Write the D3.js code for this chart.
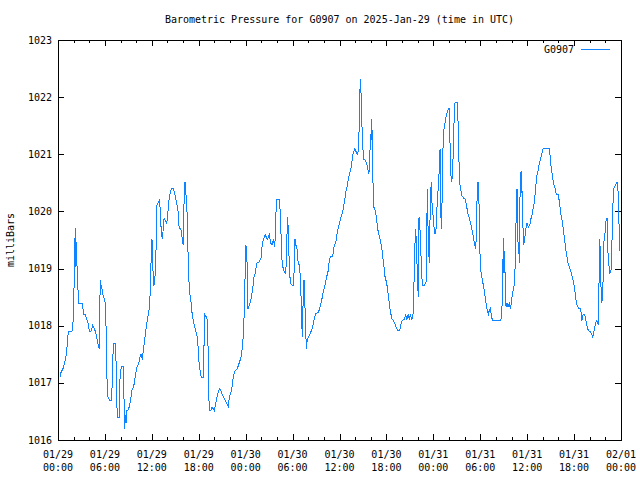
<!DOCTYPE html>
<html>
<head>
<meta charset="utf-8">
<script src="https://cdn.jsdelivr.net/npm/d3@7"></script>
<style>
  html, body { margin: 0; padding: 0; background: #fff; }
  text { font-family: "DejaVu Sans Mono", "Liberation Mono", monospace; font-size: 10px; fill: #000; }
</style>
</head>
<body>
<svg id="chart" width="640" height="480"></svg>
<script>
const title = "Barometric Pressure for G0907 on 2025-Jan-29 (time in UTC)";
const yLabel = "milliBars";
const seriesName = "G0907";
const yTicks = [1016, 1017, 1018, 1019, 1020, 1021, 1022, 1023];
const xTickHours = [0, 6, 12, 18, 24, 30, 36, 42, 48, 54, 60, 66, 72];
const xTickDates = ["01/29","01/29","01/29","01/29","01/30","01/30","01/30","01/30","01/31","01/31","01/31","01/31","02/01"];
const xTickTimes = ["00:00","06:00","12:00","18:00","00:00","06:00","12:00","18:00","00:00","06:00","12:00","18:00","00:00"];

// hours since 2025-01-29 00:00 UTC
const hours = [
0.26,0.38,0.68,0.93,1.11,1.24,1.37,1.79,1.88,2.01,2.08,2.21,2.26,2.34,2.39,2.52,2.56,2.65,3.07,3.20,
3.24,3.49,3.71,3.88,4.00,4.22,4.44,4.69,4.86,5.03,5.15,5.28,5.33,5.41,5.50,5.63,5.76,5.92,6.05,6.14,
6.23,6.36,6.56,6.87,7.00,7.12,7.33,7.42,7.51,7.58,7.84,7.93,8.10,8.40,8.44,8.53,8.61,8.70,8.79,9.04,
9.21,9.34,9.46,9.68,9.81,9.98,10.10,10.32,10.49,10.62,10.78,11.00,11.17,11.29,11.42,11.60,11.73,11.80,11.93,12.02,
12.11,12.24,12.37,12.57,12.66,12.88,12.96,13.05,13.13,13.21,13.34,13.43,13.56,13.72,13.90,13.98,14.16,14.29,14.41,14.54,
14.75,14.87,15.00,15.13,15.26,15.39,15.44,15.51,15.69,15.82,15.90,16.03,16.11,16.24,16.33,16.46,16.59,16.66,16.84,17.01,
17.18,17.39,17.56,17.74,17.87,18.00,18.16,18.33,18.58,18.67,18.76,18.93,19.09,19.18,19.27,19.35,19.53,19.70,19.86,19.99,
20.12,20.25,20.46,20.68,20.89,21.01,21.23,21.49,21.78,21.91,22.21,22.42,22.64,22.93,23.15,23.37,23.53,23.70,23.83,23.95,
24.04,24.17,24.30,24.47,24.65,24.81,24.94,25.07,25.23,25.41,25.75,25.96,26.13,26.31,26.51,26.77,27.02,27.20,27.37,27.54,
27.72,27.84,27.92,28.30,28.43,28.56,28.65,28.77,28.94,29.12,29.20,29.29,29.38,29.45,29.58,29.71,29.93,30.09,30.18,30.31,
30.44,30.53,30.66,30.78,30.91,31.04,31.17,31.24,31.37,31.46,31.55,31.68,31.76,31.88,32.06,32.27,32.49,32.65,32.83,33.00,
33.29,33.51,33.73,33.93,34.15,34.37,34.57,34.70,34.88,35.13,35.30,35.56,35.72,35.90,36.07,36.28,36.49,36.67,36.83,37.00,
37.18,37.34,37.51,37.64,37.77,37.98,38.11,38.28,38.46,38.53,38.66,38.75,38.84,38.97,39.10,39.30,39.48,39.65,39.74,39.87,
39.94,40.03,40.12,40.20,40.29,40.38,40.54,40.67,40.80,40.92,41.09,41.22,41.40,41.53,41.69,41.82,42.04,42.21,42.37,42.50,
42.68,42.88,43.06,43.23,43.45,43.70,43.87,44.08,44.29,44.47,44.63,44.80,44.93,45.06,45.24,45.40,45.57,45.70,45.83,45.91,
46.00,46.08,46.17,46.30,46.39,46.52,46.59,46.90,47.07,47.16,47.23,47.36,47.49,47.61,47.74,47.83,47.96,48.09,48.21,48.34,
48.47,48.60,48.77,48.86,48.94,49.02,49.11,49.20,49.33,49.49,49.66,49.84,50.01,50.10,50.17,50.30,50.43,50.52,50.65,50.77,
51.07,51.16,51.28,51.41,51.54,51.67,51.89,52.09,52.27,52.44,52.60,52.78,52.95,53.11,53.29,53.42,53.50,53.59,53.71,53.84,
53.93,54.06,54.19,54.35,54.52,54.65,54.78,54.91,55.04,55.16,55.29,55.42,55.54,56.62,56.75,56.88,56.95,57.04,57.13,57.21,
57.30,57.42,57.55,57.72,57.85,57.97,58.10,58.23,58.41,58.48,58.61,58.70,58.79,58.92,59.00,59.09,59.22,59.30,59.38,59.51,
59.64,59.81,59.98,60.15,60.33,60.46,60.62,60.75,60.92,61.04,61.22,61.39,61.55,61.73,61.94,62.06,62.83,62.92,63.05,63.18,
63.31,63.43,63.60,63.73,63.98,64.07,64.20,64.33,64.46,64.58,64.71,64.84,64.97,65.14,65.27,65.39,65.57,65.70,65.83,65.96,
66.09,66.21,66.34,66.47,66.63,66.80,66.89,67.01,67.14,67.27,67.36,67.49,67.62,67.74,67.91,68.08,68.26,68.39,68.51,68.59,
68.77,68.93,69.10,69.19,69.28,69.36,69.45,69.54,69.66,69.83,69.96,70.09,70.21,70.30,70.43,70.51,70.64,70.77,70.85,70.94,
71.07,71.23,71.40,71.58,71.66,71.78,71.87
];
const pressure = [
1017.10,1017.18,1017.26,1017.40,1017.53,1017.81,1017.90,1017.90,1018.00,1018.22,1019.01,1019.71,1019.03,1019.47,1019.06,1019.03,1018.61,1018.39,1018.39,1018.29,
1018.20,1018.19,1018.10,1018.03,1017.90,1017.90,1018.01,1017.94,1017.85,1017.75,1017.66,1017.60,1018.22,1018.80,1018.71,1018.64,1018.54,1018.47,1018.40,1018.00,
1017.20,1016.77,1016.70,1016.70,1017.43,1017.69,1017.69,1017.37,1016.73,1016.40,1016.40,1017.06,1017.29,1017.29,1016.73,1016.19,1016.44,1016.30,1016.51,1016.54,
1016.65,1016.76,1016.87,1016.93,1017.06,1017.20,1017.28,1017.34,1017.46,1017.50,1017.41,1017.66,1017.84,1017.98,1018.10,1018.25,1018.34,1018.68,1019.24,1019.51,
1019.06,1018.71,1018.74,1019.44,1020.11,1020.17,1020.21,1020.08,1019.85,1019.65,1019.51,1019.65,1019.88,1019.84,1019.80,1019.85,1020.17,1020.29,1020.36,1020.40,
1020.40,1020.35,1020.26,1020.17,1020.09,1019.97,1019.80,1019.70,1019.70,1019.62,1019.50,1019.41,1020.11,1020.51,1020.36,1020.14,1019.66,1018.97,1018.57,1018.42,
1018.17,1018.04,1017.94,1017.85,1017.75,1017.40,1017.22,1017.10,1017.10,1017.63,1018.20,1018.16,1018.10,1017.69,1016.90,1016.51,1016.51,1016.58,1016.54,1016.51,
1016.61,1016.70,1016.82,1016.90,1016.85,1016.79,1016.73,1016.66,1016.58,1016.76,1016.87,1017.11,1017.21,1017.25,1017.34,1017.43,1017.57,1017.82,1018.27,1019.03,
1019.41,1019.12,1018.30,1018.36,1018.44,1018.57,1018.69,1018.86,1018.92,1019.09,1019.12,1019.18,1019.44,1019.53,1019.59,1019.51,1019.59,1019.45,1019.41,1019.51,
1019.38,1019.76,1020.21,1020.21,1019.97,1019.44,1019.15,1019.02,1018.95,1018.90,1019.15,1019.63,1019.90,1019.62,1019.06,1018.75,1018.71,1018.71,1018.92,1019.51,
1019.39,1019.41,1019.15,1019.09,1019.03,1018.69,1018.10,1017.81,1018.54,1018.80,1018.48,1017.92,1017.60,1017.75,1017.81,1017.87,1017.94,1018.04,1018.16,1018.22,
1018.23,1018.32,1018.45,1018.60,1018.71,1018.86,1018.97,1019.15,1019.21,1019.21,1019.38,1019.49,1019.65,1019.73,1019.84,1019.94,1020.05,1020.21,1020.35,1020.46,
1020.61,1020.68,1020.78,1020.93,1021.03,1021.10,1021.05,1021.00,1021.07,1021.72,1022.31,1022.08,1021.63,1021.14,1020.91,1020.90,1020.84,1020.72,1020.65,1020.81,
1021.35,1021.25,1021.61,1021.22,1020.48,1020.08,1020.02,1019.94,1019.79,1019.67,1019.56,1019.49,1019.38,1019.21,1019.03,1018.86,1018.74,1018.57,1018.39,1018.26,
1018.13,1018.09,1018.04,1017.98,1017.91,1017.91,1018.04,1018.10,1018.11,1018.19,1018.11,1018.20,1018.10,1018.20,1018.10,1018.19,1018.95,1019.70,1019.50,1019.09,
1018.71,1018.51,1019.91,1019.67,1019.32,1018.92,1018.71,1018.71,1018.77,1019.60,1020.40,1019.44,1019.10,1020.17,1020.52,1020.15,1019.94,1019.73,1019.60,1019.69,
1020.08,1020.36,1020.75,1021.10,1020.08,1019.70,1020.14,1020.97,1021.42,1021.55,1021.69,1021.76,1021.80,1021.48,1020.87,1020.52,1020.60,1020.93,1021.57,1021.90,
1021.90,1021.57,1020.87,1020.46,1020.36,1020.27,1020.23,1020.21,1020.08,1019.95,1019.88,1019.79,1019.67,1019.56,1019.41,1019.35,1019.59,1020.20,1020.52,1020.14,
1019.38,1018.97,1018.86,1018.74,1018.62,1018.48,1018.36,1018.25,1018.20,1018.27,1018.30,1018.19,1018.10,1018.10,1018.17,1018.86,1019.53,1018.92,1019.30,1018.51,
1018.33,1018.39,1018.33,1018.39,1018.30,1018.39,1018.54,1018.64,1018.74,1019.21,1020.02,1020.40,1019.50,1019.41,1019.09,1020.32,1020.71,1020.32,1020.35,1019.41,
1019.47,1019.67,1019.80,1019.72,1019.76,1019.86,1019.94,1020.04,1020.17,1020.35,1020.61,1020.71,1020.84,1020.93,1021.05,1021.10,1021.10,1020.99,1020.79,1020.67,
1020.54,1020.46,1020.39,1020.30,1020.30,1020.21,1020.08,1019.94,1019.85,1019.73,1019.59,1019.45,1019.30,1019.16,1019.07,1019.03,1018.96,1018.89,1018.83,1018.74,
1018.62,1018.48,1018.38,1018.33,1018.30,1018.30,1018.23,1018.09,1018.19,1018.20,1018.19,1018.11,1018.02,1017.94,1017.91,1017.90,1017.85,1017.80,1017.87,1017.95,
1018.05,1018.09,1018.01,1018.77,1019.51,1019.24,1018.65,1018.39,1018.55,1019.50,1019.62,1019.84,1019.88,1019.31,1019.16,1018.90,1018.95,1019.00,1019.50,1020.05,
1020.40,1020.44,1020.50,1020.50,1020.20,1019.62,1019.30
];

const mLeft = 58, mRight = 621, mTop = 40, mBottom = 440;
const svg = d3.select("#chart");

const x = d3.scaleLinear().domain([0, 72]).range([mLeft, mRight]);
const y = d3.scaleLinear().domain([1016, 1023]).range([mBottom, mTop]);

// title
svg.append("text").attr("x", (mLeft + mRight) / 2).attr("y", 23)
  .attr("text-anchor", "middle").text(title);

// y label
svg.append("text").attr("transform", `translate(14,${(mTop + mBottom) / 2}) rotate(-90)`)
  .attr("text-anchor", "middle").text(yLabel);

// ticks (inward, mirrored)
const tickG = svg.append("g").attr("stroke", "#000").attr("stroke-width", 1).attr("shape-rendering", "crispEdges");
const minorHours = d3.range(0, 73, 2);
minorHours.forEach(h => {
  const major = h % 6 === 0;
  const len = major ? 6 : 3;
  const px = Math.round(x(h)) + 0.5;
  tickG.append("line").attr("x1", px).attr("x2", px).attr("y1", mBottom).attr("y2", mBottom - len);
  tickG.append("line").attr("x1", px).attr("x2", px).attr("y1", mTop).attr("y2", mTop + len);
});
yTicks.forEach(v => {
  const py = Math.round(y(v)) + 0.5;
  tickG.append("line").attr("x1", mLeft).attr("x2", mLeft + 6).attr("y1", py).attr("y2", py);
  tickG.append("line").attr("x1", mRight).attr("x2", mRight - 6).attr("y1", py).attr("y2", py);
});

// y tick labels
svg.append("g").selectAll("text").data(yTicks).join("text")
  .attr("x", mLeft - 6).attr("y", d => y(d)).attr("dy", "0.35em")
  .attr("text-anchor", "end").text(d => d);

// x tick labels
const xl = svg.append("g");
xTickHours.forEach((h, i) => {
  xl.append("text").attr("x", x(h)).attr("y", 458).attr("text-anchor", "middle").text(xTickDates[i]);
  xl.append("text").attr("x", x(h)).attr("y", 471).attr("text-anchor", "middle").text(xTickTimes[i]);
});

// data line
const line = d3.line().x((d, i) => x(hours[i])).y(d => y(d));
svg.append("path").datum(pressure)
  .attr("d", line)
  .attr("fill", "none")
  .attr("stroke", "#1084ff")
  .attr("stroke-width", 1)
  .attr("shape-rendering", "crispEdges");

// border
svg.append("rect").attr("x", mLeft + 0.5).attr("y", mTop + 0.5)
  .attr("width", mRight - mLeft).attr("height", mBottom - mTop)
  .attr("fill", "none").attr("stroke", "#000").attr("stroke-width", 1)
  .attr("shape-rendering", "crispEdges");

// legend
svg.append("text").attr("x", 574).attr("y", 53).attr("text-anchor", "end").text(seriesName);
svg.append("line").attr("x1", 581).attr("x2", 610).attr("y1", 49.5).attr("y2", 49.5)
  .attr("stroke", "#1084ff").attr("stroke-width", 1).attr("shape-rendering", "crispEdges");
</script>
</body>
</html>
